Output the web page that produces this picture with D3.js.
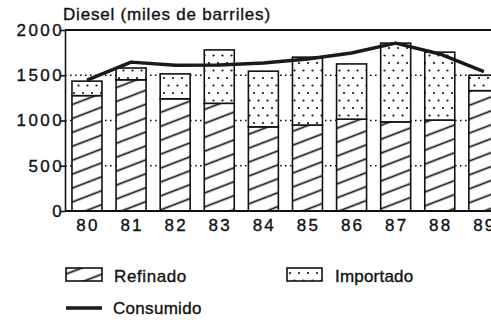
<!DOCTYPE html>
<html>
<head>
<meta charset="utf-8">
<script src="https://cdn.jsdelivr.net/npm/d3@7"></script>
<style>
  body { margin: 0; background: #fff; }
  text { font-family: "Liberation Sans", Arial, sans-serif; fill: #111; stroke: #111; stroke-width: 0.35px; }
</style>
</head>
<body>
<div class="container"></div>
<script>
// values (thousands of barrels)
var years = ["80", "81", "82", "83", "84", "85", "86", "87", "88", "89"];
var refinado = [1275, 1450, 1240, 1190, 930, 950, 1015, 985, 1005, 1330];
var importado = [160, 130, 275, 590, 615, 750, 610, 870, 750, 170];
var consumido = [1445, 1645, 1610, 1612, 1635, 1680, 1745, 1855, 1735, 1540];
var yTicks = [0, 500, 1000, 1500, 2000];

const WIDTH = 491;
const HEIGHT = 323;
const LEFT = 65;
const TOP = 30;
const BOTTOM = 211;

var svg = d3.select('.container').append('svg')
    .attr('width', WIDTH)
    .attr('height', HEIGHT);

var defs = svg.append('defs');

var hatch = defs.append('pattern')
    .attr('id', 'hatch')
    .attr('patternUnits', 'userSpaceOnUse')
    .attr('width', 20)
    .attr('height', 13)
    .attr('patternTransform', 'rotate(-21)');
hatch.append('rect').attr('width', 20).attr('height', 13).attr('fill', '#fff');
hatch.append('line')
    .attr('x1', 0).attr('x2', 20).attr('y1', 6.5).attr('y2', 6.5)
    .attr('stroke', '#111').attr('stroke-width', 1.7);

var dots = defs.append('pattern')
    .attr('id', 'dots')
    .attr('patternUnits', 'userSpaceOnUse')
    .attr('width', 9)
    .attr('height', 15);
dots.append('rect').attr('width', 9).attr('height', 15).attr('fill', '#fff');
dots.append('circle').attr('cx', 2).attr('cy', 3).attr('r', 1.1).attr('fill', '#111');
dots.append('circle').attr('cx', 6.5).attr('cy', 10.5).attr('r', 1.1).attr('fill', '#111');

var xScale = d3.scaleBand()
    .domain(years)
    .range([LEFT + 0.8, LEFT + 0.8 + 44.1 * 9.96])
    .paddingInner(0.32)
    .paddingOuter(0.14);

var yScale = d3.scaleLinear()
    .domain([0, 2000])
    .range([BOTTOM, TOP]);

// dotted grid
svg.append('g').selectAll('line')
    .data([500, 1000, 1500])
    .enter().append('line')
    .attr('x1', LEFT).attr('x2', WIDTH)
    .attr('y1', function (d) { return yScale(d); })
    .attr('y2', function (d) { return yScale(d); })
    .attr('stroke', '#111')
    .attr('stroke-width', 1.6)
    .attr('stroke-dasharray', '1.6,3.4');

// top border
svg.append('line')
    .attr('x1', LEFT).attr('x2', WIDTH)
    .attr('y1', yScale(2000)).attr('y2', yScale(2000))
    .attr('stroke', '#111').attr('stroke-width', 2.2);

var rows = years.map(function (y, i) {
    return { year: y, refinado: refinado[i], importado: importado[i] };
});
var series = d3.stack().keys(['refinado', 'importado'])(rows);

svg.append('g').selectAll('g')
    .data(series)
    .enter().append('g')
    .attr('fill', function (d) { return d.key == 'refinado' ? 'url(#hatch)' : 'url(#dots)'; })
    .selectAll('rect')
    .data(function (d) { return d; })
    .enter().append('rect')
    .attr('x', function (d) { return xScale(d.data.year); })
    .attr('width', xScale.bandwidth())
    .attr('y', function (d) { return yScale(d[1]); })
    .attr('height', function (d) { return yScale(d[0]) - yScale(d[1]); })
    .attr('stroke', '#111')
    .attr('stroke-width', 1.6);

// consumption line
var line = d3.line()
    .x(function (d, i) { return xScale(years[i]) + xScale.bandwidth() / 2; })
    .y(function (d) { return yScale(d); });

svg.append('path')
    .attr('d', line(consumido))
    .attr('fill', 'none')
    .attr('stroke', '#1a1a1a')
    .attr('stroke-width', 3.5)
    .attr('stroke-linejoin', 'round');

// axes
var yAxis = svg.append('g')
    .attr('transform', 'translate(' + LEFT + ',0)')
    .call(d3.axisLeft(yScale).tickValues(yTicks).tickFormat(d3.format('d'))
        .tickSize(4).tickSizeOuter(0).tickPadding(0));
yAxis.select('.domain').attr('stroke', '#111').attr('stroke-width', 1.6);
yAxis.selectAll('.tick line').attr('stroke', '#111').attr('stroke-width', 1.6);
yAxis.selectAll('text')
    .attr('x', -1)
    .style('font-size', '17px')
    .style('letter-spacing', '2.4px')
    .style('font-family', '"Liberation Sans", Arial, sans-serif')
    .attr('fill', '#111');

var xAxis = svg.append('g')
    .attr('transform', 'translate(0,' + BOTTOM + ')')
    .call(d3.axisBottom(xScale).tickSize(0).tickSizeOuter(0).tickPadding(8));
xAxis.select('.domain').attr('stroke', '#111').attr('stroke-width', 2)
    .attr('d', 'M' + LEFT + ',0H' + WIDTH);
xAxis.selectAll('text')
    .attr('dx', 1)
    .style('font-size', '17px')
    .style('letter-spacing', '2.2px')
    .style('font-family', '"Liberation Sans", Arial, sans-serif')
    .attr('fill', '#111');

// title
svg.append('text')
    .attr('x', 63).attr('y', 20)
    .style('font-size', '17px')
    .style('letter-spacing', '0.8px')
    .text('Diesel (miles de barriles)');

// legend
svg.append('rect')
    .attr('x', 66).attr('y', 268).attr('width', 36).attr('height', 13)
    .attr('fill', 'url(#hatch)').attr('stroke', '#111').attr('stroke-width', 1.6);
svg.append('text').attr('x', 114).attr('y', 282)
    .style('font-size', '17px').style('letter-spacing', '0.6px').text('Refinado');

svg.append('rect')
    .attr('x', 287).attr('y', 268).attr('width', 35).attr('height', 13)
    .attr('fill', 'url(#dots)').attr('stroke', '#111').attr('stroke-width', 1.6);
svg.append('text').attr('x', 335).attr('y', 282)
    .style('font-size', '17px').style('letter-spacing', '0.2px').text('Importado');

svg.append('line')
    .attr('x1', 66).attr('x2', 102).attr('y1', 308).attr('y2', 308)
    .attr('stroke', '#1a1a1a').attr('stroke-width', 3.5);
svg.append('text').attr('x', 113).attr('y', 314)
    .style('font-size', '17px').style('letter-spacing', '0.3px').text('Consumido');
</script>
</body>
</html>
